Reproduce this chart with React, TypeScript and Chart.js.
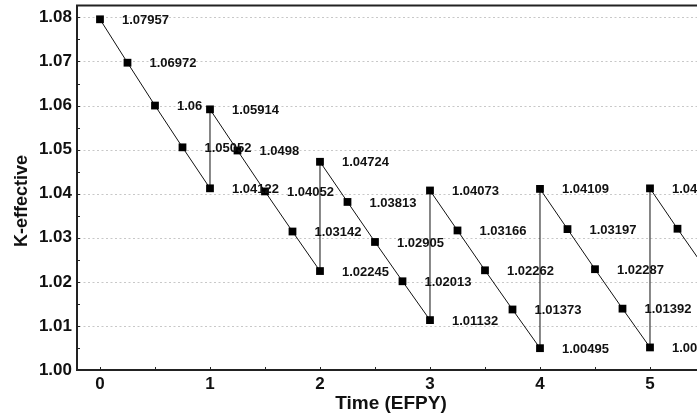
import React, { useEffect, useRef } from "react";
import { Chart, registerables } from "chart.js";

Chart.register(...registerables);

const times = [0, 0.25, 0.5, 0.75, 1, 1, 1.25, 1.5, 1.75, 2, 2, 2.25, 2.5, 2.75, 3, 3, 3.25, 3.5, 3.75, 4, 4, 4.25, 4.5, 4.75, 5, 5, 5.25, 5.5];
const keff = [1.07957, 1.06972, 1.06, 1.05052, 1.04122, 1.05914, 1.0498, 1.04052, 1.03142, 1.02245, 1.04724, 1.03813, 1.02905, 1.02013, 1.01132, 1.04073, 1.03166, 1.02262, 1.01373, 1.00495, 1.04109, 1.03197, 1.02287, 1.01392, 1.00512, 1.04121, 1.03205, 1.0231];
const xTickValues = [0, 1, 2, 3, 4, 5];
const yTickValues = [1.0, 1.01, 1.02, 1.03, 1.04, 1.05, 1.06, 1.07, 1.08];
const xTitle = "Time (EFPY)";
const yTitle = "K-effective";

const FONT = "'Liberation Sans', Arial, sans-serif";
const X_MIN = -0.209;
const X_UNIT_PX = 110;

const decor = {
  id: "decor",
  beforeDatasetsDraw(chart: any) {
    const ctx = chart.ctx;
    const area = chart.chartArea;
    const ys = chart.scales.y;
    ctx.save();
    ctx.strokeStyle = "#c8c8c8";
    ctx.lineWidth = 1;
    ctx.setLineDash([2, 2.5]);
    for (const v of yTickValues) {
      const py = Math.round(ys.getPixelForValue(v)) + 0.5;
      if (v === yTickValues[0]) continue;
      ctx.beginPath();
      ctx.moveTo(area.left + 2, py);
      ctx.lineTo(chart.width, py);
      ctx.stroke();
    }
    ctx.restore();
  },
  afterDatasetsDraw(chart: any) {
    const ctx = chart.ctx;
    const area = chart.chartArea;
    const xs = chart.scales.x;
    const ys = chart.scales.y;
    const W = chart.width;
    ctx.save();
    // frame
    ctx.strokeStyle = "#222";
    ctx.lineWidth = 2;
    ctx.beginPath();
    ctx.moveTo(W, area.top);
    ctx.lineTo(area.left, area.top);
    ctx.lineTo(area.left, area.bottom);
    ctx.lineTo(W, area.bottom);
    ctx.stroke();
    // minor ticks
    ctx.lineWidth = 1;
    for (let v = 0; v <= 5.5; v += 0.5) {
      const px = Math.round(xs.getPixelForValue(v)) + 0.5;
      if (px > W) continue;
      ctx.beginPath();
      ctx.moveTo(px, area.bottom);
      ctx.lineTo(px, area.bottom - 3);
      ctx.stroke();
    }
    for (let i = 0; i < yTickValues.length; i++) {
      const v = yTickValues[i];
      for (const d of [0, 0.005]) {
        const py = Math.round(ys.getPixelForValue(v + d)) + 0.5;
        if (py < area.top) continue;
        ctx.beginPath();
        ctx.moveTo(area.left, py);
        ctx.lineTo(area.left + 3, py);
        ctx.stroke();
      }
    }
    // data labels
    ctx.fillStyle = "#111";
    ctx.font = `bold 13px ${FONT}`;
    ctx.textAlign = "left";
    ctx.textBaseline = "middle";
    for (let i = 0; i < times.length; i++) {
      const px = xs.getPixelForValue(times[i]);
      const py = ys.getPixelForValue(keff[i]);
      ctx.fillText(String(keff[i]), px + 22, py + 1);
    }
    // axis titles
    ctx.textAlign = "center";
    ctx.textBaseline = "middle";
    ctx.font = `bold 19px ${FONT}`;
    ctx.fillText(xTitle, 391, 404);
    ctx.font = `bold 18px ${FONT}`;
    ctx.translate(22, 201);
    ctx.rotate(-Math.PI / 2);
    ctx.fillText(yTitle, 0, 0);
    ctx.restore();
  },
};

export default function App() {
  const ref = useRef<HTMLCanvasElement | null>(null);
  useEffect(() => {
    if (!ref.current) return;
    const chart = new Chart(ref.current, {
      type: "line",
      data: {
        datasets: [
          {
            data: times.map((t, i) => ({ x: t, y: keff[i] })),
            borderColor: "#111",
            borderWidth: 1,
            pointStyle: "rect",
            pointRadius: 5.5,
            pointBackgroundColor: "#000",
            pointBorderColor: "#000",
            pointBorderWidth: 0,
            tension: 0,
            clip: false,
          } as any,
        ],
      },
      options: {
        animation: false,
        responsive: false,
        layout: { padding: { top: 5, right: 0, left: 0, bottom: 0 } },
        plugins: { legend: { display: false }, tooltip: { enabled: false } },
        scales: {
          x: {
            type: "linear",
            min: X_MIN,
            max: 5.43,
            afterBuildTicks: (s: any) => {
              s.ticks = xTickValues.map((v) => ({ value: v }));
              s.min = X_MIN;
              s.max = X_MIN + s.width / X_UNIT_PX;
            },
            afterFit: (s: any) => {
              s.height = 47;
              s.paddingLeft = 0;
              s.paddingRight = 0;
            },
            grid: { display: false, drawTicks: false },
            border: { display: false },
            ticks: {
              color: "#111",
              padding: 4,
              font: { family: FONT, size: 17, weight: "bold" },
              maxRotation: 0,
              callback: (v: any) => String(v),
            },
          },
          y: {
            type: "linear",
            min: 1.0,
            max: 1.0827,
            afterBuildTicks: (s: any) => {
              s.ticks = yTickValues.map((v) => ({ value: v }));
            },
            afterFit: (s: any) => {
              s.width = 77;
              s.paddingTop = 0;
              s.paddingBottom = 0;
            },
            grid: { display: false, drawTicks: false },
            border: { display: false },
            ticks: {
              color: "#111",
              padding: 5,
              font: { family: FONT, size: 17, weight: "bold" },
              callback: (v: any) => Number(v).toFixed(2),
            },
          },
        },
      } as any,
      plugins: [decor],
    });
    return () => chart.destroy();
  }, []);
  return (
    <div style={{ position: "absolute", left: 0, top: 0, width: 697, height: 417, background: "#fff", overflow: "hidden" }}>
      <canvas ref={ref} width={697} height={417} style={{ width: 697, height: 417 }} />
    </div>
  );
}
